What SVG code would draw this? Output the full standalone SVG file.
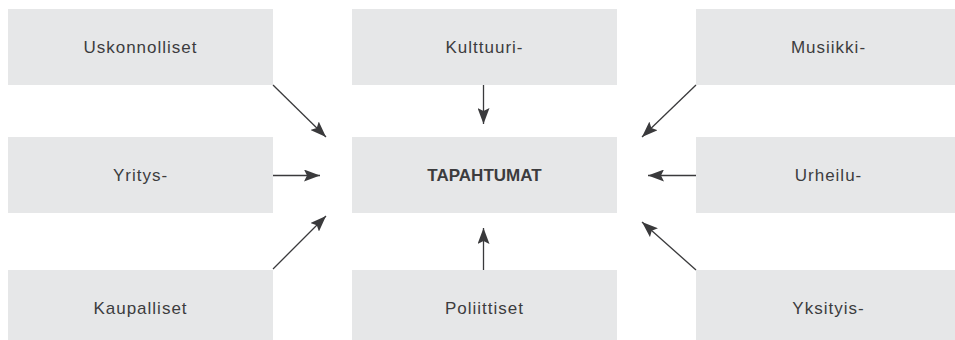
<svg xmlns="http://www.w3.org/2000/svg" width="955" height="340" viewBox="0 0 955 340">
  <defs>
    <marker id="ah" markerUnits="userSpaceOnUse" markerWidth="16" markerHeight="12" refX="16" refY="6" orient="auto">
      <path d="M0,0 L16,6 L0,12 L3,6 Z" fill="#3a3a3c"/>
    </marker>
    <style>
      .box { fill: #e6e7e8; }
      .lbl { font-family: "Liberation Sans", Arial, sans-serif; font-size: 17px; fill: #3c3c3e; text-anchor: middle; letter-spacing: 1px; }
      .main { font-weight: bold; letter-spacing: 0; }
      .conn line { stroke: #3a3a3c; stroke-width: 1.3; marker-end: url(#ah); }
    </style>
  </defs>
  <rect width="955" height="340" fill="#ffffff"/>

  <g id="uskonnolliset"><rect class="box" x="8" y="9" width="265" height="76"/><text class="lbl" x="140.5" y="53">Uskonnolliset</text></g>
  <g id="kulttuuri"><rect class="box" x="352" y="9" width="265" height="76"/><text class="lbl" x="484.5" y="53">Kulttuuri-</text></g>
  <g id="musiikki"><rect class="box" x="696" y="9" width="265" height="76"/><text class="lbl" x="828.5" y="53">Musiikki-</text></g>

  <g id="yritys"><rect class="box" x="8" y="137" width="265" height="76"/><text class="lbl" x="140.5" y="181">Yritys-</text></g>
  <g id="tapahtumat"><rect class="box" x="352" y="137" width="265" height="76"/><text class="lbl main" x="484.5" y="181">TAPAHTUMAT</text></g>
  <g id="urheilu"><rect class="box" x="696" y="137" width="265" height="76"/><text class="lbl" x="828.5" y="181">Urheilu-</text></g>

  <g id="kaupalliset"><rect class="box" x="8" y="270" width="265" height="76"/><text class="lbl" x="140.5" y="314">Kaupalliset</text></g>
  <g id="poliittiset"><rect class="box" x="352" y="270" width="265" height="76"/><text class="lbl" x="484.5" y="314">Poliittiset</text></g>
  <g id="yksityis"><rect class="box" x="696" y="270" width="265" height="76"/><text class="lbl" x="828.5" y="314">Yksityis-</text></g>

  <g id="connectors" class="conn">
    <line x1="273" y1="85" x2="326" y2="137"/>
    <line x1="273" y1="175.5" x2="320" y2="175.5"/>
    <line x1="273" y1="269" x2="326" y2="216"/>
    <line x1="483.5" y1="85" x2="483.5" y2="124"/>
    <line x1="483.5" y1="270" x2="483.5" y2="228"/>
    <line x1="696" y1="85" x2="642" y2="137"/>
    <line x1="696" y1="175.5" x2="648" y2="175.5"/>
    <line x1="696" y1="270" x2="642" y2="222"/>
  </g>
</svg>
